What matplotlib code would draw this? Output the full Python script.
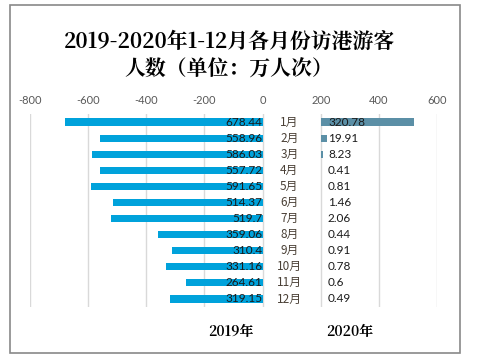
import numpy as np
import matplotlib
matplotlib.use('Agg')
from matplotlib import pyplot as plt
from matplotlib.patches import Rectangle

plt.rcParams['font.family'] = ['Lato', 'Noto Sans CJK SC', 'DejaVu Sans']

months = ['1月', '2月', '3月', '4月', '5月', '6月', '7月', '8月', '9月', '10月', '11月', '12月']
v2019 = [678.44, 558.96, 586.03, 557.72, 591.65, 514.37, 519.7, 359.06, 310.4, 331.16, 264.61, 319.15]
v2020 = [320.78, 19.91, 8.23, 0.41, 0.81, 1.46, 2.06, 0.44, 0.91, 0.78, 0.6, 0.49]
lab2019 = ['678.44', '558.96', '586.03', '557.72', '591.65', '514.37', '519.7', '359.06', '310.4', '331.16', '264.61', '319.15']
lab2020 = ['320.78', '19.91', '8.23', '0.41', '0.81', '1.46', '2.06', '0.44', '0.91', '0.78', '0.6', '0.49']
ticks = [-800, -600, -400, -200, 0, 200, 400, 600]
offset = 200  # gap for month labels

fig = plt.figure(figsize=(4.79, 3.58), dpi=100)
fig.patches.append(Rectangle((9.5/479, 1-353/358), (460-9.5)/479, (353-5)/358,
                             transform=fig.transFigure, fill=False,
                             edgecolor='#898989', linewidth=1.2))

ax = fig.add_axes([30/479, 1-307/358, 407/479, 193/358])
y = np.arange(len(months))

ax.barh(y, -np.array(v2019), height=0.45, color='#00A2DB', zorder=3)
ax.barh(y, v2020, left=offset, height=0.45, color='#5B8FA6', zorder=3)

for i in range(len(months)):
    ax.text(0, i, lab2019[i], ha='right', va='center', fontsize=8.5, color='#1a1a1a', zorder=4)
    ax.text(offset + 25, i, lab2020[i], ha='left', va='center', fontsize=8.5, color='#1a1a1a', zorder=4)
    ax.text(92, i, months[i], ha='center', va='center', fontsize=8.5, color='#4a4036',
            family=['Noto Sans CJK SC', 'DejaVu Sans'], zorder=4)

ax.set_xlim(-800, 600)
ax.set_ylim(len(months) - 0.5, -0.5)
ax.set_xticks(ticks)
ax.set_xticklabels([str(t) for t in ticks])
ax.xaxis.tick_top()
ax.tick_params(axis='x', length=0, pad=6, labelsize=8, labelcolor='#595959')
ax.set_yticks([])
ax.grid(axis='x', color='#D9D9D9', linewidth=1, zorder=0)
for s in ax.spines.values():
    s.set_visible(False)

tfont = ['Noto Serif CJK SC', 'Noto Sans CJK SC', 'DejaVu Sans']
fig.text(229/479, 1-42/358, '2019-2020年1-12月各月份访港游客', ha='center', va='center',
         fontsize=15, fontweight='bold', family=tfont)
fig.text(229/479, 1-69/358, '人数（单位：万人次）', ha='center', va='center',
         fontsize=15, fontweight='bold', family=tfont)
fig.text(231/479, 1-332/358, '2019年', ha='center', va='center', fontsize=10,
         fontweight='bold', family=tfont)
fig.text(350/479, 1-332/358, '2020年', ha='center', va='center', fontsize=10,
         fontweight='bold', family=tfont)

fig.savefig('out.png', dpi=100)
